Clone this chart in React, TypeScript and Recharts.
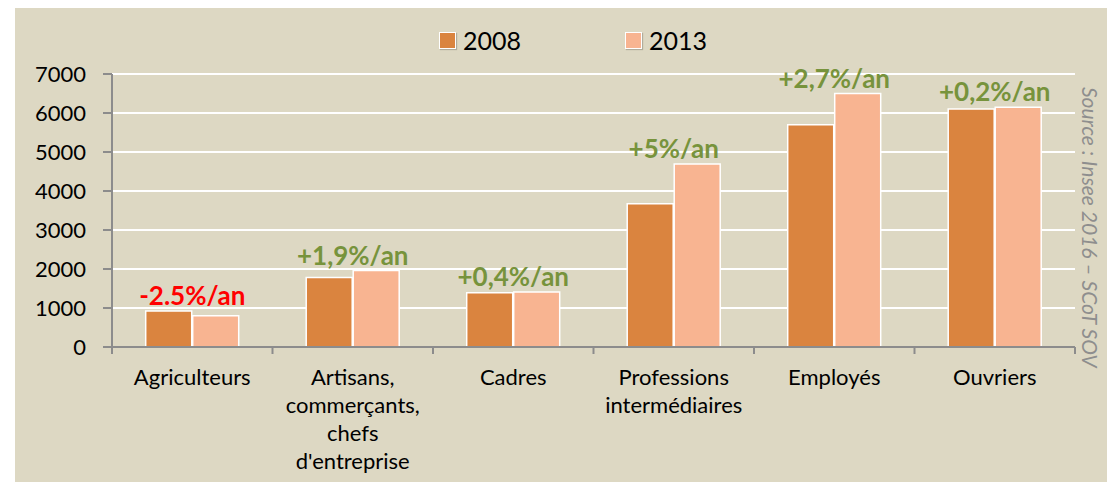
import React from 'react';
import {
  ComposedChart,
  Bar,
  Line,
  XAxis,
  YAxis,
  CartesianGrid,
  Legend,
  LabelList,
} from 'recharts';

// categories (\n = line break in the axis label)
const categories = [
  'Agriculteurs',
  "Artisans,\ncommerçants,\nchefs\nd'entreprise",
  'Cadres',
  'Professions\nintermédiaires',
  'Employés',
  'Ouvriers',
];
const values2008 = [920, 1780, 1390, 3670, 5700, 6100];
const values2013 = [800, 1960, 1410, 4690, 6500, 6150];
const growthLabels = ['-2.5%/an', '+1,9%/an', '+0,4%/an', '+5%/an', '+2,7%/an', '+0,2%/an'];
const yTicks = [0, 1000, 2000, 3000, 4000, 5000, 6000, 7000];
const seriesNames = ['2008', '2013'];

const COLORS = {
  BG: '#DDD8C3',
  Y2008: '#DA843F',
  Y2013: '#F8B491',
  AXIS: '#8C8C8C',
  GREEN: '#77933C',
  RED: '#FF0000',
  TEXT: '#000000',
  SOURCE: '#8E8E8E',
};

const WIDTH = 1119;
const HEIGHT = 490;
const MARGIN = { top: 44, right: 44, bottom: 13, left: 52 };
const Y_AXIS_W = 60;
const PLOT_W = WIDTH - MARGIN.left - MARGIN.right - Y_AXIS_W;
const BAND = PLOT_W / categories.length;

const data = categories.map((name, i) => ({
  name,
  y2008: values2008[i],
  y2013: values2013[i],
  top: Math.max(values2008[i], values2013[i]),
  growth: growthLabels[i],
}));

const CategoryTick = (props: any) => {
  const { x, y, payload, index } = props;
  const lines = String(payload.value).split('\n');
  const last = index === categories.length - 1;
  return (
    <g>
      <line x1={x - BAND / 2} x2={x - BAND / 2} y1={y} y2={y + 7} stroke={COLORS.AXIS} strokeWidth={2} />
      {last && (
        <line x1={x + BAND / 2} x2={x + BAND / 2} y1={y} y2={y + 7} stroke={COLORS.AXIS} strokeWidth={2} />
      )}
      <text x={x} y={y + 38} textAnchor="middle" fill={COLORS.TEXT} fontSize={22}>
        {lines.map((l, i) => (
          <tspan key={i} x={x} dy={i === 0 ? 0 : 28}>
            {l}
          </tspan>
        ))}
      </text>
    </g>
  );
};

const GrowthLabel = (props: any) => {
  const { x, y, value } = props;
  const negative = String(value).startsWith('-');
  return (
    <text
      x={x}
      y={y - 6}
      textAnchor="middle"
      fontSize={26}
      fontWeight={700}
      fill={negative ? COLORS.RED : COLORS.GREEN}
    >
      {value}
    </text>
  );
};

const LegendContent = () => (
  <div style={{ display: 'flex', height: 30, alignItems: 'center', paddingLeft: 439 }}>
    {seriesNames.map((n, i) => (
      <div key={n} style={{ display: 'flex', alignItems: 'center', marginRight: 104 }}>
        <span
          style={{
            width: 15,
            height: 15,
            background: i === 0 ? COLORS.Y2008 : COLORS.Y2013,
            border: '1px solid #fff',
            boxShadow: '1px 1px 1px rgba(0,0,0,0.2)',
            marginRight: 7,
          }}
        />
        <span style={{ fontSize: 25, color: COLORS.TEXT }}>{n}</span>
      </div>
    ))}
  </div>
);

export default function App() {
  return (
    <div
      style={{
        position: 'relative',
        width: WIDTH,
        height: HEIGHT,
        margin: -8,
        background: '#fff',
        fontFamily: 'Lato, sans-serif',
      }}
    >
      <div
        style={{
          position: 'absolute',
          left: 15,
          top: 5,
          width: 1092,
          height: 483,
          background: COLORS.BG,
        }}
      />
      <div style={{ position: 'absolute', left: 0, top: 0 }}>
        <ComposedChart
          width={WIDTH}
          height={HEIGHT}
          data={data}
          margin={MARGIN}
          barCategoryGap="21%"
          barGap={1}
        >
          <CartesianGrid vertical={false} stroke="#FFFFFF" strokeWidth={2} />
          <XAxis
            dataKey="name"
            height={130}
            interval={0}
            tickLine={false}
            tickSize={0}
            tickMargin={0}
            axisLine={{ stroke: COLORS.AXIS, strokeWidth: 2 }}
            tick={<CategoryTick />}
          />
          <YAxis
            width={Y_AXIS_W}
            domain={[0, 7000]}
            ticks={yTicks}
            interval={0}
            tickSize={9}
            tickMargin={17}
            axisLine={{ stroke: COLORS.AXIS, strokeWidth: 2 }}
            tickLine={{ stroke: COLORS.AXIS, strokeWidth: 2 }}
            tick={{ fill: COLORS.TEXT, fontSize: 22 }}
          />
          <Legend
            verticalAlign="top"
            content={<LegendContent />}
            wrapperStyle={{ top: 25, left: 0, width: WIDTH }}
          />
          <Bar dataKey="y2008" name="2008" fill={COLORS.Y2008} stroke="#FFFFFF" strokeWidth={1.5} isAnimationActive={false} />
          <Bar dataKey="y2013" name="2013" fill={COLORS.Y2013} stroke="#FFFFFF" strokeWidth={1.5} isAnimationActive={false} />
          <Line
            dataKey="top"
            stroke="none"
            dot={false}
            activeDot={false}
            legendType="none"
            isAnimationActive={false}
          >
            <LabelList dataKey="growth" content={<GrowthLabel />} />
          </Line>
        </ComposedChart>
      </div>
      <div
        style={{
          position: 'absolute',
          left: 1078,
          top: 87,
          writingMode: 'vertical-rl',
          fontStyle: 'italic',
          fontSize: 21,
          lineHeight: '24px',
          color: COLORS.SOURCE,
          whiteSpace: 'nowrap',
        }}
      >
        Source : Insee 2016 – SCoT SOV
      </div>
    </div>
  );
}
